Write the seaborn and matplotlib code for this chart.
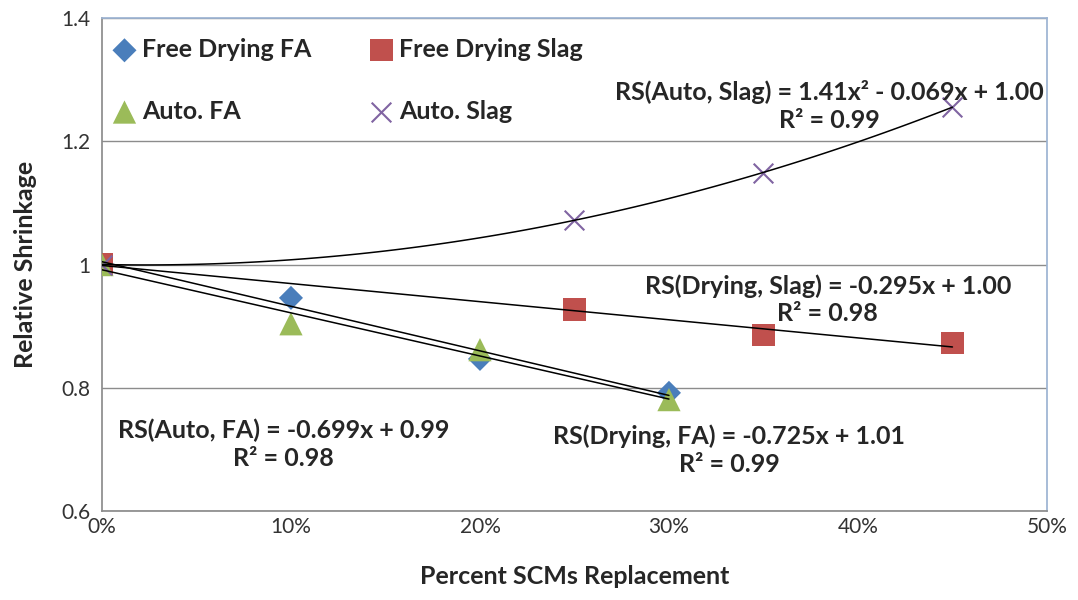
import numpy as np
import pandas as pd
import matplotlib
matplotlib.use("Agg")
import matplotlib.pyplot as plt
import seaborn as sns

# data
fa_x = [0.0, 0.10, 0.20, 0.30]
drying_fa = [1.0, 0.946, 0.847, 0.792]
auto_fa = [1.0, 0.904, 0.862, 0.781]

slag_x = [0.0, 0.25, 0.35, 0.45]
drying_slag = [1.0, 0.927, 0.886, 0.873]
auto_slag = [1.0, 1.073, 1.148, 1.256]

series_names = ["Free Drying FA", "Free Drying Slag", "Auto. FA", "Auto. Slag"]
x_ticks = [0.0, 0.1, 0.2, 0.3, 0.4, 0.5]
x_tick_labels = ["0%", "10%", "20%", "30%", "40%", "50%"]
y_ticks = [0.6, 0.8, 1.0, 1.2, 1.4]
y_tick_labels = ["0.6", "0.8", "1", "1.2", "1.4"]

eq_auto_slag = "RS(Auto, Slag) = 1.41x² - 0.069x + 1.00\nR² = 0.99"
eq_drying_slag = "RS(Drying, Slag) = -0.295x + 1.00\nR² = 0.98"
eq_auto_fa = "RS(Auto, FA) = -0.699x + 0.99\nR² = 0.98"
eq_drying_fa = "RS(Drying, FA) = -0.725x + 1.01\nR² = 0.99"

sns.set_theme(style="white")
plt.rcParams["font.family"] = ["Lato", "DejaVu Sans"]

df = pd.concat([
    pd.DataFrame({"x": fa_x, "y": drying_fa, "series": series_names[0]}),
    pd.DataFrame({"x": slag_x, "y": drying_slag, "series": series_names[1]}),
    pd.DataFrame({"x": fa_x, "y": auto_fa, "series": series_names[2]}),
    pd.DataFrame({"x": slag_x, "y": auto_slag, "series": series_names[3]}),
])

palette = {series_names[0]: "#4A7EBB", series_names[1]: "#C0504D",
           series_names[2]: "#9BBB59", series_names[3]: "#8064A2"}
markers = {series_names[0]: "D", series_names[1]: "s",
           series_names[2]: "^", series_names[3]: "x"}
sizes = {series_names[0]: 150, series_names[1]: 260,
         series_names[2]: 280, series_names[3]: 200}

fig = plt.figure(figsize=(10.78, 6), dpi=100)
ax = fig.add_axes([0.0946, 0.148, 0.8766, 0.822])

for name in series_names:
    sub = df[df["series"] == name]
    kw = dict(edgecolor="none") if markers[name] != "x" else dict(linewidth=1.5)
    sns.scatterplot(data=sub, x="x", y="y", color=palette[name], marker=markers[name],
                    s=sizes[name], label=name, ax=ax, zorder=3, **kw)

# trendlines
fits = [(fa_x, drying_fa, 1), (fa_x, auto_fa, 1), (slag_x, drying_slag, 1), (slag_x, auto_slag, 2)]
for xs, ys, deg in fits:
    coef = np.polyfit(xs, ys, deg)
    xx = np.linspace(0, max(xs), 100)
    ax.plot(xx, np.polyval(coef, xx), color="black", lw=1.1, zorder=4)

ax.set_xlim(0, 0.5)
ax.set_ylim(0.6, 1.4)
ax.set_xticks(x_ticks)
ax.set_xticklabels(x_tick_labels)
ax.set_yticks(y_ticks)
ax.set_yticklabels(y_tick_labels)
ax.tick_params(axis="both", labelsize=15, length=0, colors="#333333")
ax.tick_params(axis="x", pad=4)
ax.tick_params(axis="y", pad=8)
ax.yaxis.grid(True, color="#8C8C8C", lw=1)
ax.set_axisbelow(True)
for s in ["left", "bottom"]:
    ax.spines[s].set_color("#8C8C8C")
for s in ["top", "right"]:
    ax.spines[s].set_color("#9DB4D3")

ax.set_xlabel("Percent SCMs Replacement", fontsize=18, fontweight="bold", labelpad=20)
ax.set_ylabel("Relative Shrinkage", fontsize=18, fontweight="bold", labelpad=18)

txt = dict(fontsize=18, fontweight="bold", ha="center", va="center", linespacing=1.25)
ax.text(0.385, 1.257, eq_auto_slag, **txt)
ax.text(0.384, 0.943, eq_drying_slag, **txt)
ax.text(0.096, 0.709, eq_auto_fa, **txt)
ax.text(0.332, 0.699, eq_drying_fa, **txt)

handles, labels = ax.get_legend_handles_labels()
order = [0, 2, 1, 3]
leg = ax.legend([handles[i] for i in order], [labels[i] for i in order],
                loc="upper left", ncol=2, frameon=False, fontsize=18,
                labelspacing=1.55, columnspacing=2.3, handlelength=1.0,
                handletextpad=0.2, borderaxespad=0.0, bbox_to_anchor=(0.0, 0.98))
for t in leg.get_texts():
    t.set_fontweight("bold")

fig.savefig("out.png", dpi=100)
